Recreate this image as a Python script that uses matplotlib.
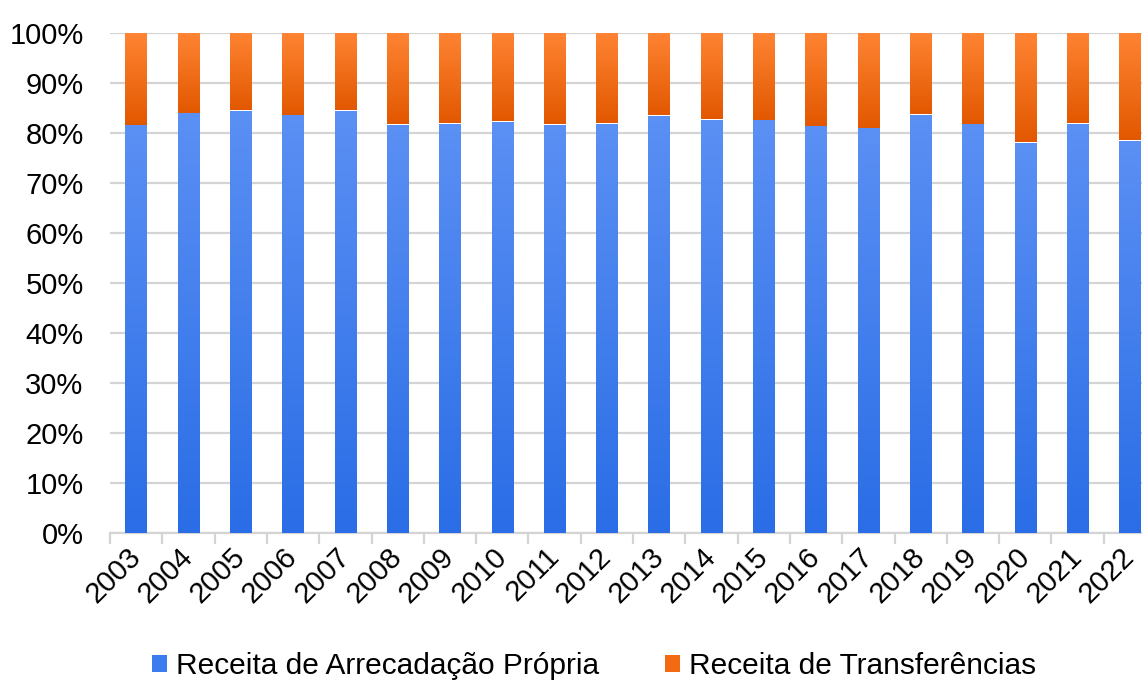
import matplotlib
matplotlib.use("Agg")
import matplotlib.pyplot as plt
import numpy as np
from matplotlib.colors import LinearSegmentedColormap
from matplotlib.patches import Patch

plt.rcParams['font.family'] = ['Liberation Sans', 'DejaVu Sans']

years = ["2003", "2004", "2005", "2006", "2007", "2008", "2009", "2010", "2011", "2012",
         "2013", "2014", "2015", "2016", "2017", "2018", "2019", "2020", "2021", "2022"]
arrecadacao_propria = [81.6, 84.0, 84.5, 83.6, 84.5, 81.7, 81.9, 82.3, 81.7, 81.9,
                       83.5, 82.7, 82.6, 81.4, 81.0, 83.7, 81.8, 78.1, 81.9, 78.5]
transferencias = [100 - v for v in arrecadacao_propria]

labels = ["Receita de Arrecadação Própria", "Receita de Transferências"]

fig = plt.figure(figsize=(11.42, 6.84), dpi=100)
ax = fig.add_axes([110 / 1142, 151 / 684, 1046 / 1142, 500 / 684])

x = np.arange(len(years))
width = 0.41

blue_cmap = LinearSegmentedColormap.from_list("b", ["#2a6de6", "#5b90f4"])
orange_cmap = LinearSegmentedColormap.from_list("o", ["#e25800", "#ff8433"])

grad = np.linspace(0, 1, 256).reshape(-1, 1)

bars_b = ax.bar(x, arrecadacao_propria, width, color="none", edgecolor="none", zorder=3)
bars_o = ax.bar(x, transferencias, width, bottom=arrecadacao_propria, color="none",
                edgecolor="none", zorder=3)

# vertical gradient fill, clipped to each bar
for bar, cmap in [(b, blue_cmap) for b in bars_b] + [(b, orange_cmap) for b in bars_o]:
    x0, y0 = bar.get_x(), bar.get_y()
    w, h = bar.get_width(), bar.get_height()
    if cmap is blue_cmap:
        ext = (x0, x0 + w, 0, y0 + h)
    else:
        ext = (x0, x0 + w, y0, y0 + h)
    im = ax.imshow(grad, cmap=cmap, aspect="auto", extent=ext, origin="lower",
                   interpolation="bilinear", zorder=3)
    im.set_clip_path(bar)

ax.set_xlim(-0.5, len(years) - 0.5)
ax.set_ylim(0, 100)
ax.set_yticks(np.arange(0, 101, 10))
ax.set_yticklabels([f"{v}%" for v in range(0, 101, 10)], fontsize=21)
ax.yaxis.grid(True, color="#d4d4d4", linewidth=1.6, zorder=0)
ax.set_axisbelow(True)

ax.set_xticks(x)
ax.set_xticklabels(years, rotation=45, ha="right", va="center",
                   rotation_mode="anchor", fontsize=21)
ax.set_xticks(np.arange(-0.5, len(years), 1), minor=True)
ax.tick_params(axis="x", which="major", length=0, pad=14)
ax.tick_params(axis="x", which="minor", length=8, color="#d4d4d4", width=1.6)
ax.tick_params(axis="y", length=0, pad=19)

for s in ["top", "right", "left"]:
    ax.spines[s].set_visible(False)
ax.spines["bottom"].set_color("#d4d4d4")
ax.spines["bottom"].set_linewidth(1.6)

handles = [Patch(facecolor="#3b7cee", edgecolor="none"),
           Patch(facecolor="#f26a12", edgecolor="none")]
fig.legend(handles, labels, loc="center", bbox_to_anchor=(0.52, 1 - 666 / 684), ncol=2,
           frameon=False, fontsize=21.5, handlelength=0.5, handleheight=0.5,
           handletextpad=0.3, columnspacing=2.2)

fig.savefig("out.png", dpi=100)
